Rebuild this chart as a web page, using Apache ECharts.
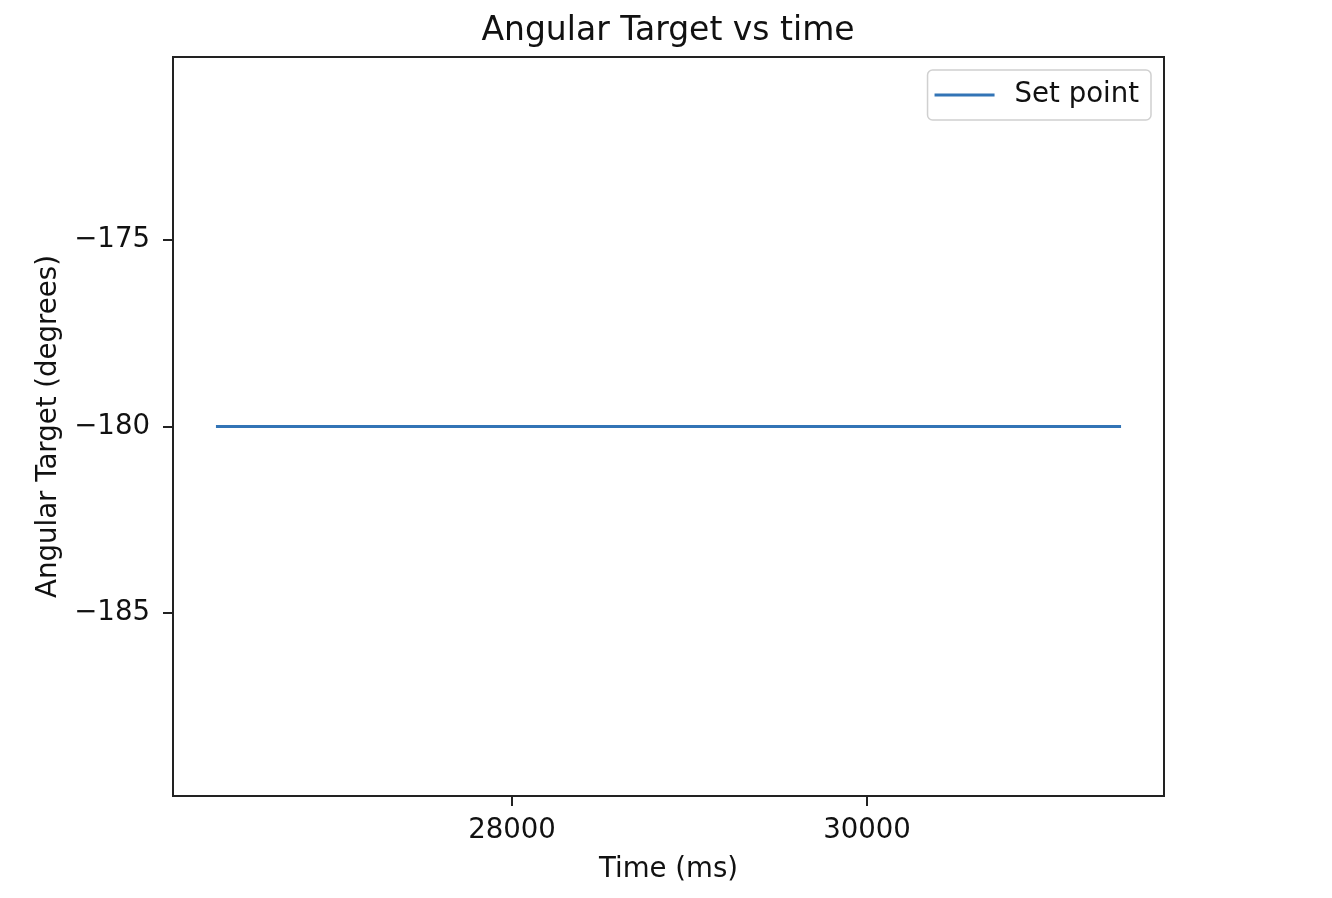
<!DOCTYPE html>
<html>
<head>
<meta charset="utf-8">
<script src="https://cdn.jsdelivr.net/npm/echarts@6/dist/echarts.min.js"></script>
<style>html,body{margin:0;padding:0;background:#fff;}#c{width:1332px;height:898px;}</style>
</head>
<body>
<div id="c"></div>
<script>
const timeMs = [26332, 31431];
const setPoint = [-180, -180];
const xTicks = [28000, 30000];
const yTicks = [-185, -180, -175];

const FONT = 'DejaVu Sans';
const FS = 27.6;
const fmt = v => String(v).replace('-', '\u2212');

const chart = echarts.init(document.getElementById('c'));
chart.setOption({
  animation: false,
  backgroundColor: '#fff',
  title: {
    text: 'Angular Target vs time',
    left: 663, top: 10, textAlign: 'center',
    textStyle: { fontFamily: FONT, fontSize: 33, fontWeight: 'normal', color: '#111' }
  },
  legend: {
    right: 181, top: 70,
    padding: [11, 12, 11, 7],
    borderColor: '#d0d0d0', borderWidth: 1.5, borderRadius: 5,
    backgroundColor: 'rgba(255,255,255,0.8)',
    itemWidth: 60, itemHeight: 14,
    textStyle: { fontFamily: FONT, fontSize: FS, color: '#111', padding: [0, 0, 0, 15] },
    data: [{ name: 'Set point', icon: 'path://M0,0 L60,0 L60,3 L0,3 Z' }]
  },
  grid: {
    left: 173, right: 168, top: 57, bottom: 102,
    show: true, borderColor: '#222', borderWidth: 2, backgroundColor: '#fff'
  },
  xAxis: {
    type: 'value', min: 26090, max: 31673,
    name: 'Time (ms)', nameLocation: 'middle', nameGap: 60,
    nameTextStyle: { fontFamily: FONT, fontSize: FS, color: '#111' },
    axisLine: { show: false },
    splitLine: { show: false },
    axisTick: { show: true, length: 10, lineStyle: { color: '#222', width: 2 }, customValues: xTicks },
    axisLabel: { fontFamily: FONT, fontSize: FS, color: '#111', margin: 21, customValues: xTicks, formatter: v => fmt(v) }
  },
  yAxis: {
    type: 'value', min: -189.9, max: -170.1,
    name: 'Angular Target (degrees)', nameLocation: 'middle', nameGap: 106, nameRotate: 90,
    nameTextStyle: { fontFamily: FONT, fontSize: FS, color: '#111' },
    axisLine: { show: false },
    splitLine: { show: false },
    axisTick: { show: true, length: 10, lineStyle: { color: '#222', width: 2 }, customValues: yTicks },
    axisLabel: { fontFamily: FONT, fontSize: FS, color: '#111', margin: 23, customValues: yTicks, formatter: v => fmt(v) }
  },
  series: [{
    name: 'Set point', type: 'line',
    data: timeMs.map((t, i) => [t, setPoint[i]]),
    symbol: 'none',
    lineStyle: { color: '#3274b6', width: 3 },
    itemStyle: { color: '#3274b6' }
  }]
});
</script>
</body>
</html>
